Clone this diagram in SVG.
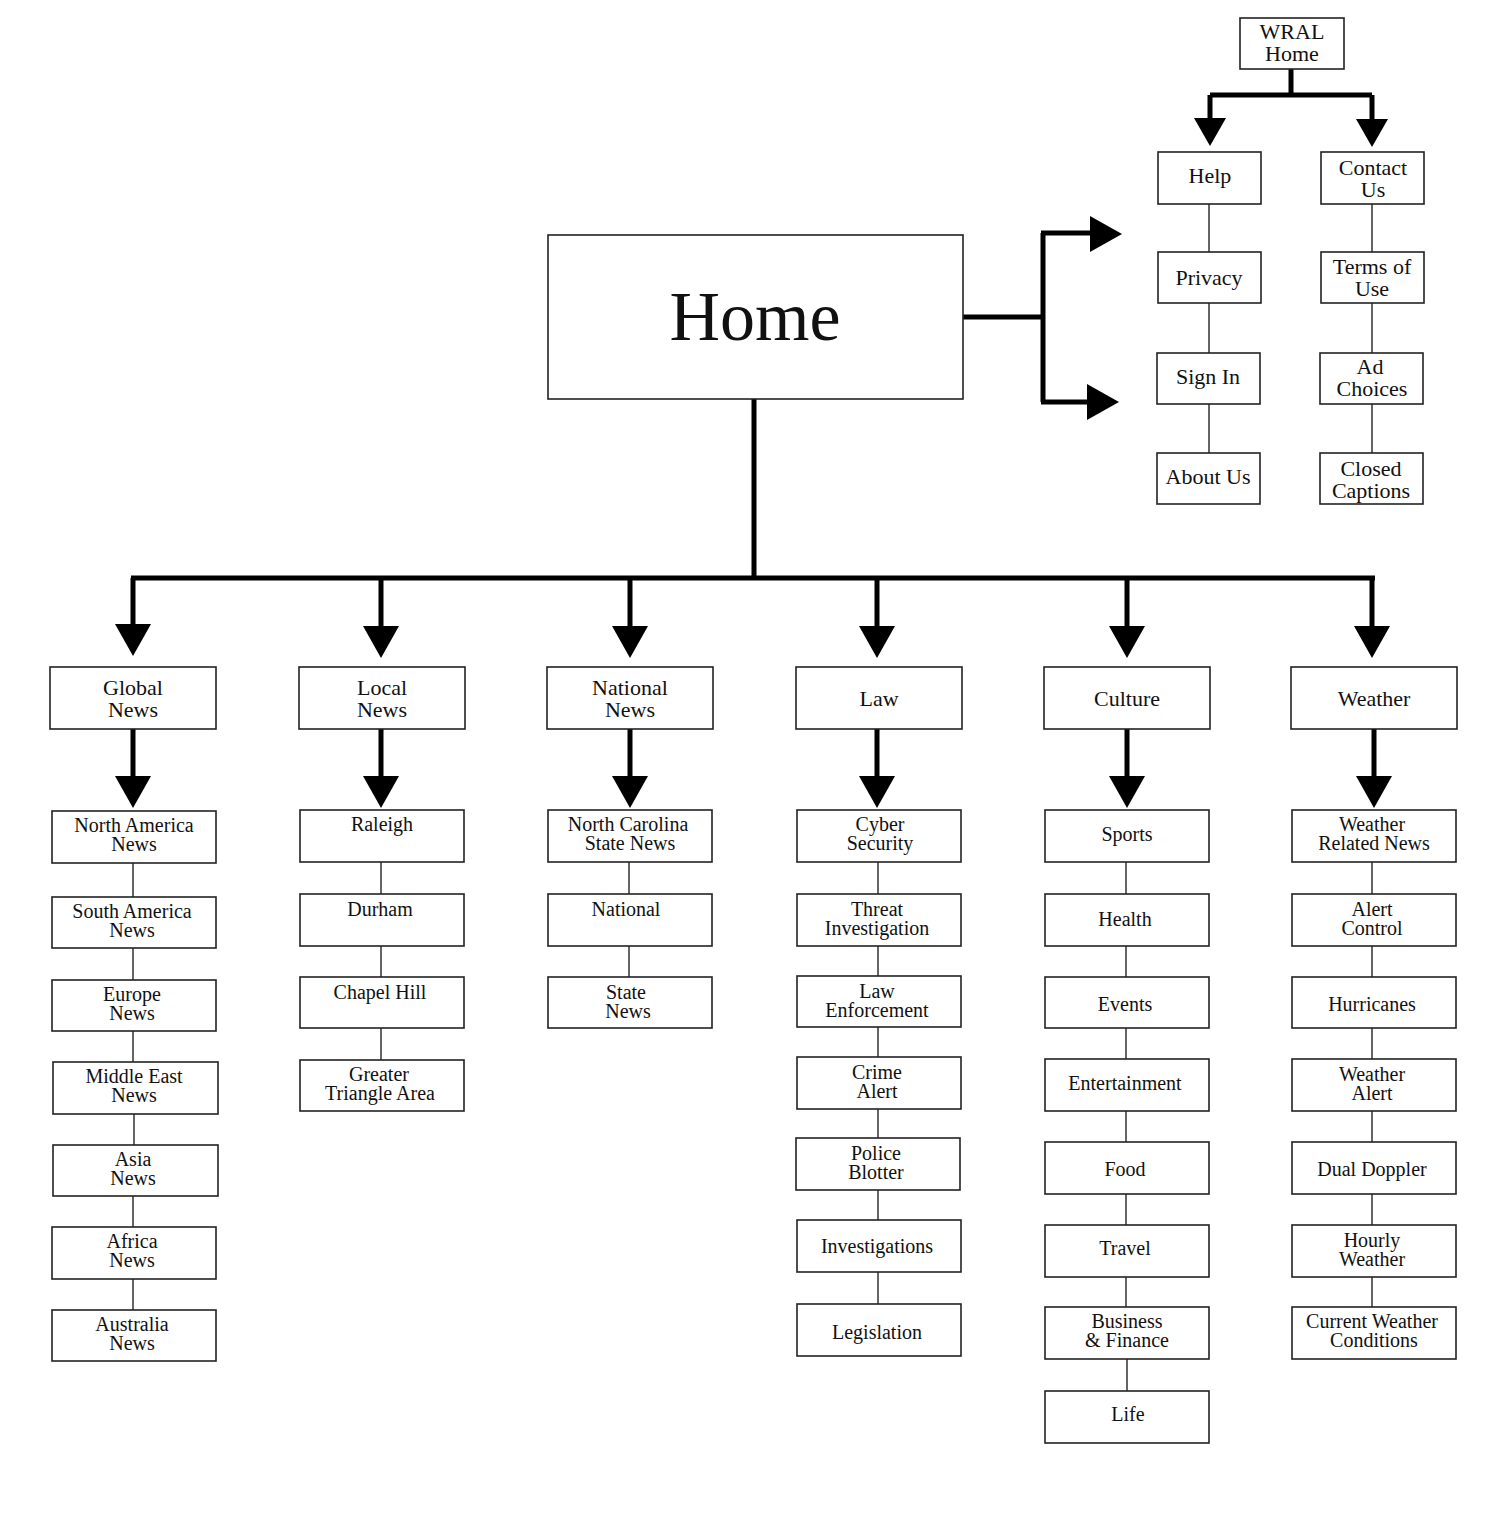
<svg xmlns="http://www.w3.org/2000/svg" xmlns:xlink="http://www.w3.org/1999/xlink" width="1500" height="1529" viewBox="0 0 1500 1529">
<style>
.bx{fill:#fff;stroke:#222;stroke-width:1.6}
.t{font-family:"Liberation Serif","Times New Roman",serif;font-size:20px;fill:#111;text-anchor:middle}
.tc{font-family:"Liberation Serif","Times New Roman",serif;font-size:22px;fill:#111;text-anchor:middle}
.th{font-family:"Liberation Serif","Times New Roman",serif;font-size:70px;fill:#111;text-anchor:middle}
.thick{fill:none;stroke:#000;stroke-width:5}
.thin{fill:none;stroke:#333;stroke-width:1.5}
</style>
<defs>
<polygon id="ad" points="-18,-32 18,-32 0,0" fill="#000"/>
<polygon id="ads" points="-16,-28 16,-28 0,0" fill="#000"/>
<polygon id="ar" points="-32,-18 -32,18 0,0" fill="#000"/>
</defs>
<rect width="1500" height="1529" fill="#fff"/>
<g id="connectors">
<path class="thick" d="M1291,69 V95 M1210,95 H1372 M1210,95 V120 M1372,95 V122"/>
<use xlink:href="#ads" x="1210" y="146"/>
<use xlink:href="#ads" x="1372" y="147"/>
<path class="thin" d="M1209,204 V252 M1209,303 V353 M1209,404 V453 M1372,204 V252 M1372,303 V353 M1372,404 V453"/>
<path class="thick" d="M963,317 H1043 M1043,233 V402 M1041,233 H1092 M1041,402 H1090"/>
<use xlink:href="#ar" x="1122" y="234"/>
<use xlink:href="#ar" x="1119" y="402"/>
<path class="thick" d="M754,399 V578 M131,578 H1375 M133,578 V626 M381,578 V626 M630,578 V626 M877,578 V626 M1127,578 V626 M1372,578 V626"/>
<use xlink:href="#ad" x="133" y="656"/>
<use xlink:href="#ad" x="381" y="658"/>
<use xlink:href="#ad" x="630" y="658"/>
<use xlink:href="#ad" x="877" y="658"/>
<use xlink:href="#ad" x="1127" y="658"/>
<use xlink:href="#ad" x="1372" y="658"/>
<path class="thick" d="M133,729 V778 M381,729 V778 M630,729 V778 M877,729 V778 M1127,729 V778 M1374,729 V778"/>
<use xlink:href="#ad" x="133" y="808"/>
<use xlink:href="#ad" x="381" y="808"/>
<use xlink:href="#ad" x="630" y="808"/>
<use xlink:href="#ad" x="877" y="808"/>
<use xlink:href="#ad" x="1127" y="808"/>
<use xlink:href="#ad" x="1374" y="808"/>
<path class="thin" d="M133,863 V897 M133,948 V980 M133,1031 V1062 M134,1114 V1145 M133,1196 V1227 M133,1279 V1310"/>
<path class="thin" d="M381,862 V894 M381,946 V977 M381,1028 V1060"/>
<path class="thin" d="M629,862 V894 M629,946 V977"/>
<path class="thin" d="M878,862 V894 M878,946 V976 M878,1027 V1057 M878,1109 V1138 M878,1190 V1220 M878,1272 V1304"/>
<path class="thin" d="M1126,862 V894 M1126,946 V977 M1126,1028 V1059 M1126,1111 V1142 M1126,1194 V1225 M1126,1277 V1307 M1127,1359 V1391"/>
<path class="thin" d="M1372,862 V894 M1372,946 V977 M1372,1028 V1059 M1372,1111 V1142 M1372,1194 V1225 M1372,1277 V1307"/>
</g>
<g id="n-wral"><rect class="bx" x="1240" y="18" width="104" height="51"/><text class="tc" x="1292" y="39">WRAL</text><text class="tc" x="1292" y="61">Home</text></g>
<g id="n-help"><rect class="bx" x="1158" y="152" width="103" height="52"/><text class="tc" x="1210" y="183">Help</text></g>
<g id="n-contact"><rect class="bx" x="1321" y="152" width="103" height="52"/><text class="tc" x="1373" y="175">Contact</text><text class="tc" x="1373" y="197">Us</text></g>
<g id="n-privacy"><rect class="bx" x="1158" y="252" width="103" height="51"/><text class="tc" x="1209" y="285">Privacy</text></g>
<g id="n-terms"><rect class="bx" x="1321" y="252" width="103" height="51"/><text class="tc" x="1372" y="274">Terms of</text><text class="tc" x="1372" y="296">Use</text></g>
<g id="n-signin"><rect class="bx" x="1157" y="353" width="103" height="51"/><text class="tc" x="1208" y="384">Sign In</text></g>
<g id="n-adchoices"><rect class="bx" x="1320" y="353" width="103" height="51"/><text class="tc" x="1370" y="374">Ad</text><text class="tc" x="1372" y="396">Choices</text></g>
<g id="n-about"><rect class="bx" x="1157" y="453" width="103" height="51"/><text class="tc" x="1208" y="484">About Us</text></g>
<g id="n-closed"><rect class="bx" x="1320" y="453" width="103" height="51"/><text class="tc" x="1371" y="476">Closed</text><text class="tc" x="1371" y="498">Captions</text></g>
<g id="n-home"><rect class="bx" x="548" y="235" width="415" height="164"/><text class="th" x="755" y="340">Home</text></g>
<g id="n-global"><rect class="bx" x="50" y="667" width="166" height="62"/><text class="tc" x="133" y="695">Global</text><text class="tc" x="133" y="717">News</text></g>
<g id="n-local"><rect class="bx" x="299" y="667" width="166" height="62"/><text class="tc" x="382" y="695">Local</text><text class="tc" x="382" y="717">News</text></g>
<g id="n-national"><rect class="bx" x="547" y="667" width="166" height="62"/><text class="tc" x="630" y="695">National</text><text class="tc" x="630" y="717">News</text></g>
<g id="n-law"><rect class="bx" x="796" y="667" width="166" height="62"/><text class="tc" x="879" y="706">Law</text></g>
<g id="n-culture"><rect class="bx" x="1044" y="667" width="166" height="62"/><text class="tc" x="1127" y="706">Culture</text></g>
<g id="n-weather"><rect class="bx" x="1291" y="667" width="166" height="62"/><text class="tc" x="1374" y="706">Weather</text></g>
<g id="n-na"><rect class="bx" x="52" y="811" width="164" height="52"/><text class="t" x="134" y="832">North America</text><text class="t" x="134" y="851">News</text></g>
<g id="n-sa"><rect class="bx" x="52" y="897" width="164" height="51"/><text class="t" x="132" y="918">South America</text><text class="t" x="132" y="937">News</text></g>
<g id="n-europe"><rect class="bx" x="52" y="980" width="164" height="51"/><text class="t" x="132" y="1001">Europe</text><text class="t" x="132" y="1020">News</text></g>
<g id="n-me"><rect class="bx" x="53" y="1062" width="165" height="52"/><text class="t" x="134" y="1083">Middle East</text><text class="t" x="134" y="1102">News</text></g>
<g id="n-asia"><rect class="bx" x="53" y="1145" width="165" height="51"/><text class="t" x="133" y="1166">Asia</text><text class="t" x="133" y="1185">News</text></g>
<g id="n-africa"><rect class="bx" x="52" y="1227" width="164" height="52"/><text class="t" x="132" y="1248">Africa</text><text class="t" x="132" y="1267">News</text></g>
<g id="n-australia"><rect class="bx" x="52" y="1310" width="164" height="51"/><text class="t" x="132" y="1331">Australia</text><text class="t" x="132" y="1350">News</text></g>
<g id="n-raleigh"><rect class="bx" x="300" y="810" width="164" height="52"/><text class="t" x="382" y="831">Raleigh</text></g>
<g id="n-durham"><rect class="bx" x="300" y="894" width="164" height="52"/><text class="t" x="380" y="916">Durham</text></g>
<g id="n-chapel"><rect class="bx" x="300" y="977" width="164" height="51"/><text class="t" x="380" y="999">Chapel Hill</text></g>
<g id="n-gta"><rect class="bx" x="300" y="1060" width="164" height="51"/><text class="t" x="379" y="1081">Greater</text><text class="t" x="380" y="1100">Triangle Area</text></g>
<g id="n-ncstate"><rect class="bx" x="548" y="810" width="164" height="52"/><text class="t" x="628" y="831">North Carolina</text><text class="t" x="630" y="850">State News</text></g>
<g id="n-nat"><rect class="bx" x="548" y="894" width="164" height="52"/><text class="t" x="626" y="916">National</text></g>
<g id="n-state"><rect class="bx" x="548" y="977" width="164" height="51"/><text class="t" x="626" y="999">State</text><text class="t" x="628" y="1018">News</text></g>
<g id="n-cyber"><rect class="bx" x="797" y="810" width="164" height="52"/><text class="t" x="880" y="831">Cyber</text><text class="t" x="880" y="850">Security</text></g>
<g id="n-threat"><rect class="bx" x="797" y="894" width="164" height="52"/><text class="t" x="877" y="916">Threat</text><text class="t" x="877" y="935">Investigation</text></g>
<g id="n-lawenf"><rect class="bx" x="797" y="976" width="164" height="51"/><text class="t" x="877" y="998">Law</text><text class="t" x="877" y="1017">Enforcement</text></g>
<g id="n-crime"><rect class="bx" x="797" y="1057" width="164" height="52"/><text class="t" x="877" y="1079">Crime</text><text class="t" x="877" y="1098">Alert</text></g>
<g id="n-police"><rect class="bx" x="796" y="1138" width="164" height="52"/><text class="t" x="876" y="1160">Police</text><text class="t" x="876" y="1179">Blotter</text></g>
<g id="n-invest"><rect class="bx" x="797" y="1220" width="164" height="52"/><text class="t" x="877" y="1253">Investigations</text></g>
<g id="n-legis"><rect class="bx" x="797" y="1304" width="164" height="52"/><text class="t" x="877" y="1339">Legislation</text></g>
<g id="n-sports"><rect class="bx" x="1045" y="810" width="164" height="52"/><text class="t" x="1127" y="841">Sports</text></g>
<g id="n-health"><rect class="bx" x="1045" y="894" width="164" height="52"/><text class="t" x="1125" y="926">Health</text></g>
<g id="n-events"><rect class="bx" x="1045" y="977" width="164" height="51"/><text class="t" x="1125" y="1011">Events</text></g>
<g id="n-ent"><rect class="bx" x="1045" y="1059" width="164" height="52"/><text class="t" x="1125" y="1090">Entertainment</text></g>
<g id="n-food"><rect class="bx" x="1045" y="1142" width="164" height="52"/><text class="t" x="1125" y="1176">Food</text></g>
<g id="n-travel"><rect class="bx" x="1045" y="1225" width="164" height="52"/><text class="t" x="1125" y="1255">Travel</text></g>
<g id="n-business"><rect class="bx" x="1045" y="1307" width="164" height="52"/><text class="t" x="1127" y="1328">Business</text><text class="t" x="1127" y="1347">&amp; Finance</text></g>
<g id="n-life"><rect class="bx" x="1045" y="1391" width="164" height="52"/><text class="t" x="1128" y="1421">Life</text></g>
<g id="n-wrn"><rect class="bx" x="1292" y="810" width="164" height="52"/><text class="t" x="1372" y="831">Weather</text><text class="t" x="1374" y="850">Related News</text></g>
<g id="n-alertc"><rect class="bx" x="1292" y="894" width="164" height="52"/><text class="t" x="1372" y="916">Alert</text><text class="t" x="1372" y="935">Control</text></g>
<g id="n-hurr"><rect class="bx" x="1292" y="977" width="164" height="51"/><text class="t" x="1372" y="1011">Hurricanes</text></g>
<g id="n-walert"><rect class="bx" x="1292" y="1059" width="164" height="52"/><text class="t" x="1372" y="1081">Weather</text><text class="t" x="1372" y="1100">Alert</text></g>
<g id="n-dual"><rect class="bx" x="1292" y="1142" width="164" height="52"/><text class="t" x="1372" y="1176">Dual Doppler</text></g>
<g id="n-hourly"><rect class="bx" x="1292" y="1225" width="164" height="52"/><text class="t" x="1372" y="1247">Hourly</text><text class="t" x="1372" y="1266">Weather</text></g>
<g id="n-current"><rect class="bx" x="1292" y="1307" width="164" height="52"/><text class="t" x="1372" y="1328">Current Weather</text><text class="t" x="1374" y="1347">Conditions</text></g>
</svg>
